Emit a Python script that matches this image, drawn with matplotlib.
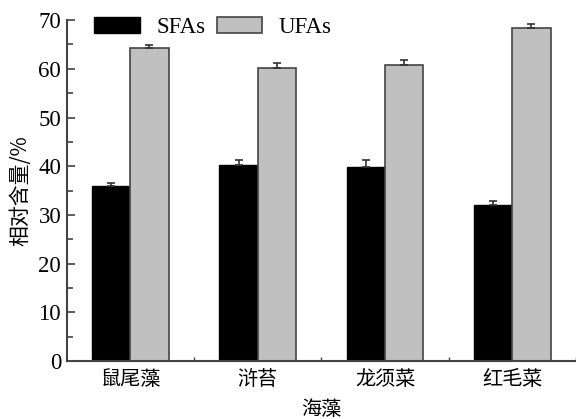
import matplotlib
matplotlib.use("Agg")
import matplotlib.pyplot as plt
import numpy as np

plt.rcParams['font.family'] = ['Liberation Serif', 'Noto Sans CJK SC']

# data
algae = ['鼠尾藻', '浒苔', '龙须菜', '红毛菜']
sfa = [36.0, 40.2, 39.9, 32.0]
sfa_err = [0.5, 1.0, 1.3, 0.9]
ufa = [64.2, 60.2, 60.7, 68.4]
ufa_err = [0.6, 1.0, 1.2, 0.9]

fig = plt.figure(figsize=(5.76, 4.19), dpi=100)
ax = fig.add_axes([0.1158, 0.1384, 0.8842, 0.8136])

x = np.arange(len(algae)) + 0.5
w = 0.3
ax.bar(x - w / 2, sfa, w, color='black', edgecolor='black', linewidth=1,
       yerr=[np.zeros(len(sfa)), sfa_err], capsize=3,
       error_kw=dict(ecolor='#333333', elinewidth=1.2, capthick=1.2), label='SFAs')
ax.bar(x + w / 2, ufa, w, color='#c0c0c0', edgecolor='#444444', linewidth=1.2,
       yerr=[np.zeros(len(ufa)), ufa_err], capsize=3,
       error_kw=dict(ecolor='#333333', elinewidth=1.2, capthick=1.2), label='UFAs')

ax.set_xlim(0, 4)
ax.set_ylim(0, 70)
ax.set_yticks(np.arange(0, 71, 10))
ax.set_yticks(np.arange(5, 70, 10), minor=True)
ax.set_xticks(x)
ax.set_xticklabels(algae, fontsize=14.5, family=['Noto Sans CJK SC'])
ax.set_xticks([1, 2, 3, 4], minor=True)
ax.tick_params(axis='x', which='major', length=0, pad=6)
ax.tick_params(axis='x', which='minor', direction='in', length=3, width=1, color='#444444')
ax.tick_params(axis='y', which='major', direction='in', length=6, width=1.2,
               labelsize=16.5, color='#444444', pad=4)
ax.tick_params(axis='y', which='minor', direction='in', length=4, width=1.2, color='#444444')

for s in ['top', 'right']:
    ax.spines[s].set_visible(False)
for s in ['left', 'bottom']:
    ax.spines[s].set_linewidth(1.5)
    ax.spines[s].set_color('#444444')

ax.set_ylabel('相对含量/%', fontsize=15, family=['Noto Sans CJK SC', 'Liberation Serif'], labelpad=5)
ax.set_xlabel('海藻', fontsize=14.5, family=['Noto Sans CJK SC'], labelpad=6)

ax.legend(loc='upper left', bbox_to_anchor=(0.036, 1.035), ncol=2, frameon=False,
          fontsize=16.5, handlelength=2.0, handleheight=0.7, handletextpad=0.7,
          columnspacing=0.5, borderaxespad=0)

fig.savefig('out.png', dpi=100)
